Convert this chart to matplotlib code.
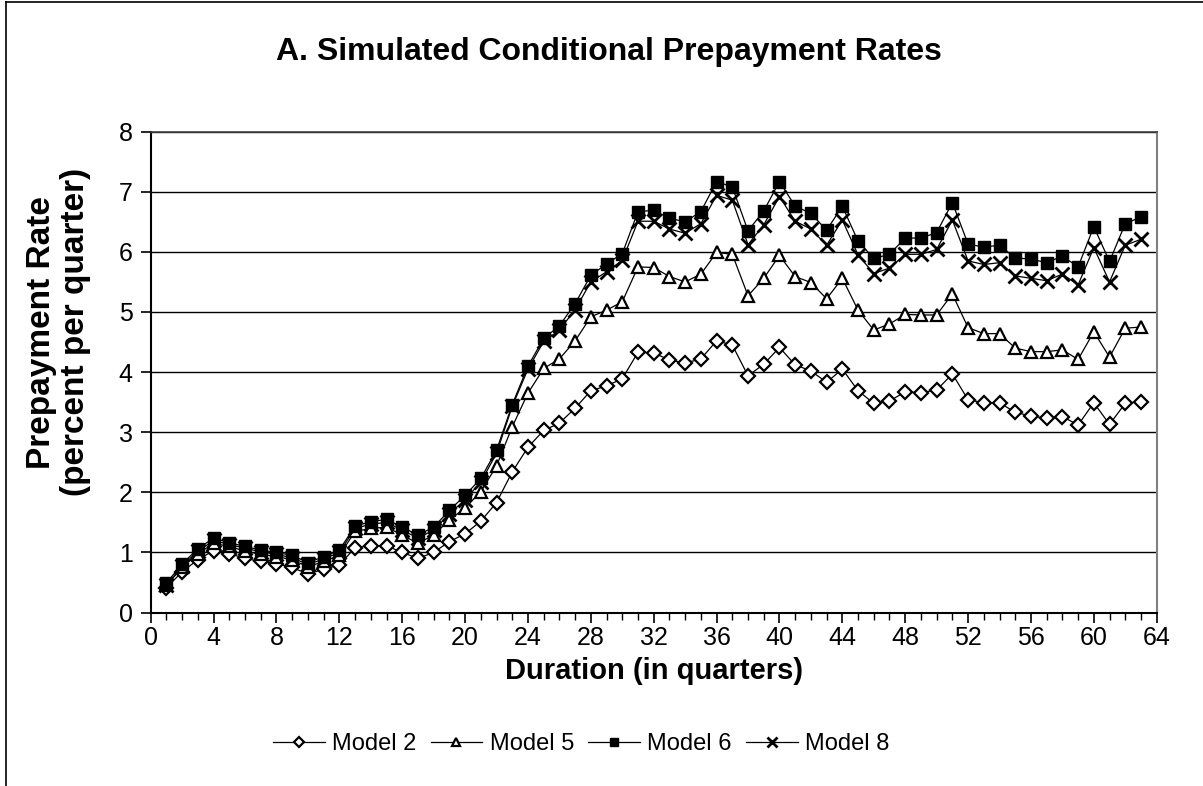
import matplotlib.pyplot as plt
from matplotlib.lines import Line2D

plt.rcParams['font.family'] = ['Liberation Sans', 'DejaVu Sans']

# duration in quarters
quarters = list(range(1, 64))

model2 = [0.41, 0.68, 0.88, 1.03, 0.98, 0.90, 0.85, 0.81, 0.75, 0.64,
          0.72, 0.79, 1.08, 1.11, 1.11, 1.00, 0.90, 1.00, 1.18, 1.31,
          1.52, 1.83, 2.34, 2.75, 3.03, 3.15, 3.40, 3.69, 3.77, 3.89,
          4.33, 4.32, 4.20, 4.15, 4.22, 4.52, 4.45, 3.94, 4.13, 4.41,
          4.12, 4.02, 3.83, 4.05, 3.69, 3.48, 3.52, 3.67, 3.66, 3.70,
          3.97, 3.54, 3.49, 3.49, 3.33, 3.27, 3.23, 3.26, 3.12, 3.49,
          3.13, 3.48, 3.51]

model5 = [0.45, 0.75, 0.98, 1.15, 1.10, 1.02, 0.97, 0.93, 0.88, 0.76,
          0.85, 0.95, 1.35, 1.40, 1.42, 1.29, 1.15, 1.29, 1.54, 1.74,
          2.01, 2.44, 3.09, 3.65, 4.06, 4.22, 4.52, 4.92, 5.03, 5.17,
          5.75, 5.74, 5.59, 5.50, 5.63, 5.99, 5.96, 5.27, 5.56, 5.94,
          5.59, 5.49, 5.22, 5.56, 5.03, 4.70, 4.80, 4.96, 4.95, 4.95,
          5.30, 4.74, 4.64, 4.64, 4.40, 4.34, 4.34, 4.37, 4.21, 4.67,
          4.25, 4.73, 4.75]

model6 = [0.49, 0.81, 1.06, 1.24, 1.16, 1.10, 1.04, 1.00, 0.95, 0.83,
          0.93, 1.04, 1.44, 1.51, 1.55, 1.42, 1.29, 1.42, 1.70, 1.95,
          2.23, 2.70, 3.46, 4.10, 4.56, 4.77, 5.14, 5.61, 5.80, 5.97,
          6.67, 6.69, 6.56, 6.50, 6.67, 7.17, 7.08, 6.35, 6.68, 7.17,
          6.76, 6.64, 6.36, 6.76, 6.18, 5.89, 5.96, 6.23, 6.23, 6.32,
          6.82, 6.13, 6.08, 6.11, 5.90, 5.88, 5.82, 5.93, 5.75, 6.42,
          5.84, 6.47, 6.58]

model8 = [0.45, 0.78, 1.02, 1.20, 1.13, 1.07, 1.01, 0.97, 0.91, 0.80,
          0.89, 1.00, 1.40, 1.47, 1.50, 1.37, 1.24, 1.37, 1.64, 1.88,
          2.17, 2.65, 3.43, 4.05, 4.51, 4.70, 5.04, 5.50, 5.67, 5.86,
          6.51, 6.51, 6.38, 6.31, 6.47, 6.94, 6.86, 6.12, 6.45, 6.92,
          6.51, 6.38, 6.11, 6.53, 5.95, 5.64, 5.73, 5.96, 5.96, 6.04,
          6.53, 5.85, 5.79, 5.82, 5.60, 5.56, 5.52, 5.63, 5.45, 6.07,
          5.50, 6.11, 6.21]

labels = ['Model 2', 'Model 5', 'Model 6', 'Model 8']

fig = plt.figure(figsize=(12.03, 7.86), dpi=100)
ax = fig.add_axes([0.1253, 0.2207, 0.8362, 0.6118])

# border round the figure (left and top only show in the original)
fig.add_artist(Line2D([0.0048, 0.0048], [0, 0.9975], color='black', lw=1.2,
                      transform=fig.transFigure))
fig.add_artist(Line2D([0.0048, 1.0], [0.9975, 0.9975], color='black', lw=1.2,
                      transform=fig.transFigure))

ax.plot(quarters, model2, color='black', lw=0.9, marker='D', ms=7,
        mfc='white', mec='black', mew=1.6, label=labels[0], zorder=3)
ax.plot(quarters, model5, color='black', lw=0.9, marker='^', ms=9,
        mfc='white', mec='black', mew=1.6, label=labels[1], zorder=4)
ax.plot(quarters, model6, color='black', lw=0.9, marker='s', ms=9,
        mfc='black', mec='black', label=labels[2], zorder=5)
ax.plot(quarters, model8, color='black', lw=0.9, marker='x', ms=10,
        mew=2.0, label=labels[3], zorder=6)

ax.set_xlim(0, 64)
ax.set_ylim(0, 8)
ax.set_xticks(range(0, 65, 4))
ax.set_xticks(range(0, 65, 1), minor=True)
ax.set_yticks(range(0, 9))
ax.yaxis.grid(True, color='black', lw=1.0)
ax.set_axisbelow(True)

ax.tick_params(axis='both', which='major', labelsize=18, direction='out',
               length=7, width=1.2, colors='black')
ax.tick_params(axis='x', which='minor', direction='out', length=5, width=1.0)
ax.tick_params(axis='x', pad=3)
ax.tick_params(axis='y', pad=6)

for side in ['left', 'bottom']:
    ax.spines[side].set_linewidth(1.5)
    ax.spines[side].set_color('black')
ax.spines['right'].set_color('#808080')
ax.spines['right'].set_linewidth(1.5)
ax.spines['top'].set_color('#404040')
ax.spines['top'].set_linewidth(1.2)

ax.set_xlabel('Duration (in quarters)', fontsize=21, fontweight='bold',
              labelpad=5)
ax.set_ylabel('Prepayment Rate\n(percent per quarter)', fontsize=24,
              fontweight='bold', linespacing=1.1, va='center')
ax.yaxis.set_label_coords(-0.0917, 0.583)

fig.text(0.506, 0.934, 'A. Simulated Conditional Prepayment Rates',
         fontsize=23, fontweight='bold', ha='center', va='center')

fig.legend(loc='center', bbox_to_anchor=(0.483, 0.053), ncol=4,
           frameon=False, fontsize=17, handlelength=2.2,
           columnspacing=0.6, handletextpad=0.3, markerscale=0.7)

plt.savefig('out.png', dpi=100)
